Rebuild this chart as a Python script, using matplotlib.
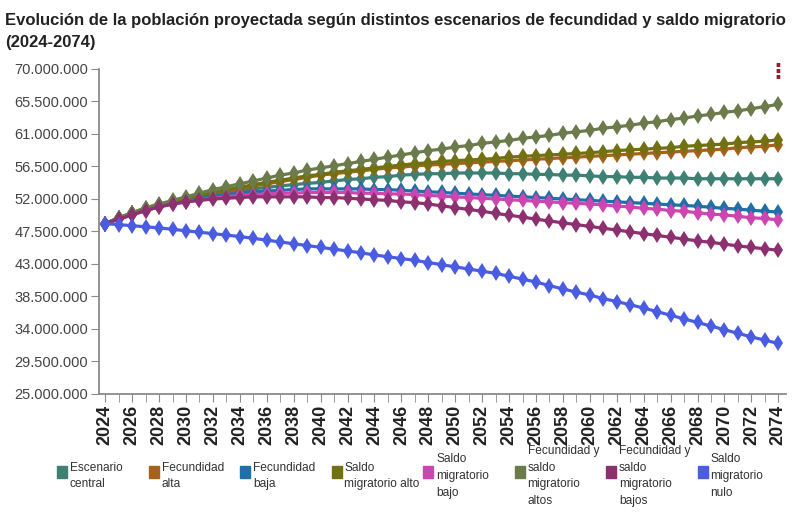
import matplotlib.pyplot as plt
from matplotlib.patches import Rectangle
import numpy as np

plt.rcParams['font.family'] = ['Liberation Sans', 'DejaVu Sans']

# data, millions of people
years = list(range(2024, 2075))

central = [48.6, 49.3, 50.0, 50.6, 51.1, 51.5, 51.9, 52.3, 52.6, 52.9,
           53.2, 53.4, 53.6, 53.8, 54.0, 54.15, 54.3, 54.5, 54.7, 54.8,
           55.0, 55.1, 55.3, 55.4, 55.5, 55.5, 55.6, 55.6, 55.6, 55.6,
           55.5, 55.5, 55.4, 55.4, 55.3, 55.3, 55.2, 55.1, 55.1, 55.0,
           55.0, 54.9, 54.9, 54.9, 54.8, 54.8, 54.8, 54.8, 54.8, 54.8,
           54.8]
fec_alta = [48.6, 49.3, 50.0, 50.6, 51.1, 51.5, 51.9, 52.3, 52.7, 53.1,
            53.4, 53.8, 54.1, 54.4, 54.7, 55.0, 55.3, 55.5, 55.7, 55.9,
            56.1, 56.3, 56.4, 56.6, 56.7, 56.8, 56.9, 57.0, 57.1, 57.2,
            57.3, 57.4, 57.5, 57.6, 57.7, 57.8, 57.9, 58.0, 58.1, 58.2,
            58.3, 58.4, 58.5, 58.6, 58.7, 58.8, 58.9, 59.1, 59.2, 59.3,
            59.5]
fec_baja = [48.6, 49.3, 50.0, 50.6, 51.1, 51.5, 51.8, 52.1, 52.4, 52.6,
            52.8, 53.0, 53.1, 53.2, 53.3, 53.4, 53.4, 53.4, 53.4, 53.4,
            53.3, 53.3, 53.2, 53.1, 53.0, 52.9, 52.8, 52.7, 52.6, 52.5,
            52.4, 52.3, 52.2, 52.1, 52.0, 51.9, 51.8, 51.7, 51.6, 51.5,
            51.4, 51.3, 51.2, 51.1, 51.0, 50.85, 50.7, 50.6, 50.45, 50.3,
            50.2]
saldo_alto = [48.6, 49.4, 50.1, 50.7, 51.2, 51.7, 52.1, 52.5, 52.9, 53.3,
              53.6, 54.0, 54.3, 54.6, 54.9, 55.2, 55.4, 55.7, 55.9, 56.1,
              56.3, 56.5, 56.7, 56.9, 57.0, 57.2, 57.3, 57.4, 57.5, 57.6,
              57.8, 57.9, 58.0, 58.1, 58.2, 58.3, 58.4, 58.55, 58.7, 58.8,
              58.9, 59.0, 59.1, 59.3, 59.4, 59.5, 59.6, 59.8, 59.9, 60.0,
              60.2]
saldo_bajo = [48.6, 49.2, 49.8, 50.4, 50.9, 51.3, 51.6, 51.9, 52.1, 52.3,
              52.5, 52.6, 52.7, 52.8, 52.8, 52.9, 52.9, 52.9, 52.9, 52.8,
              52.8, 52.7, 52.7, 52.6, 52.5, 52.4, 52.3, 52.2, 52.1, 52.0,
              51.9, 51.8, 51.7, 51.6, 51.5, 51.4, 51.3, 51.2, 51.0, 50.9,
              50.7, 50.6, 50.4, 50.3, 50.1, 49.9, 49.8, 49.6, 49.4, 49.3,
              49.1]
altos = [48.6, 49.4, 50.1, 50.8, 51.3, 51.8, 52.3, 52.8, 53.3, 53.7,
         54.1, 54.5, 54.9, 55.3, 55.6, 56.0, 56.3, 56.6, 56.9, 57.2,
         57.5, 57.8, 58.1, 58.4, 58.7, 58.9, 59.2, 59.4, 59.7, 59.9,
         60.1, 60.4, 60.6, 60.8, 61.1, 61.3, 61.5, 61.8, 62.0, 62.2,
         62.5, 62.7, 63.0, 63.2, 63.5, 63.7, 64.0, 64.2, 64.5, 64.8,
         65.1]
bajos = [48.6, 49.2, 49.8, 50.4, 50.9, 51.3, 51.6, 51.8, 52.0, 52.1,
         52.2, 52.3, 52.3, 52.3, 52.3, 52.3, 52.2, 52.2, 52.1, 52.0,
         51.9, 51.8, 51.6, 51.5, 51.3, 51.05, 50.8, 50.55, 50.3, 50.0,
         49.75, 49.5, 49.2, 48.95, 48.7, 48.45, 48.2, 47.95, 47.7, 47.45,
         47.2, 46.95, 46.7, 46.45, 46.2, 46.0, 45.75, 45.5, 45.3, 45.1,
         44.9]
nulo = [48.6, 48.45, 48.3, 48.15, 48.0, 47.8, 47.6, 47.4, 47.2, 47.0,
        46.8, 46.55, 46.3, 46.05, 45.8, 45.55, 45.3, 45.05, 44.8, 44.55,
        44.25, 44.0, 43.75, 43.5, 43.2, 42.9, 42.6, 42.3, 42.0, 41.7,
        41.3, 40.9, 40.5, 40.0, 39.55, 39.1, 38.7, 38.2, 37.8, 37.35,
        36.9, 36.4, 35.9, 35.4, 34.9, 34.4, 33.9, 33.4, 32.9, 32.45,
        32.0]

series = [central, fec_alta, fec_baja, saldo_alto, saldo_bajo, altos, bajos, nulo]
labels = ['Escenario\ncentral', 'Fecundidad\nalta', 'Fecundidad\nbaja',
          'Saldo\nmigratorio alto', 'Saldo\nmigratorio\nbajo',
          'Fecundidad y\nsaldo\nmigratorio\naltos',
          'Fecundidad y\nsaldo\nmigratorio\nbajos',
          'Saldo\nmigratorio\nnulo']
colors = ['#3f8074', '#a5621c', '#1f70a8', '#717112', '#cc45b0',
          '#6b7b4b', '#8c3070', '#4a5de2']

y_ticks = [25000000, 29500000, 34000000, 38500000, 43000000, 47500000,
           52000000, 56500000, 61000000, 65500000, 70000000]

title = ('Evolución de la población proyectada según distintos escenarios '
         'de fecundidad y saldo migratorio\n(2024-2074)')

fig = plt.figure(figsize=(8, 5.27), dpi=100)
ax = fig.add_axes([0.124, 0.2524, 0.859, 0.6167])

x = np.array(years)
for vals, col in zip(series, colors):
    ax.plot(x, np.array(vals) * 1e6, color=col, lw=2.3,
            marker='d', markersize=8.5, markeredgewidth=0)

ax.set_xlim(2023.55, 2074.6)
ax.set_ylim(25000000, 70000000)
ax.set_yticks(y_ticks)
ax.set_yticklabels([f'{v:,}'.replace(',', '.') for v in y_ticks])
ax.set_xticks(years[::2])
ax.set_xticks(years, minor=True)
ax.set_xticklabels([str(y) for y in years[::2]], rotation=90,
                   fontweight='bold', fontsize=13, color='#222222')

for s in ['top', 'right']:
    ax.spines[s].set_visible(False)
for s in ['left', 'bottom']:
    ax.spines[s].set_color('#8a8a8a')
    ax.spines[s].set_linewidth(1.3)
ax.tick_params(axis='y', length=6, color='#8a8a8a', labelsize=10.5,
               labelcolor='#444444', pad=2)
ax.tick_params(axis='x', which='both', length=6, color='#8a8a8a', pad=2)

fig.text(0.006, 1 - 13 / 527, title, ha='left', va='top', fontsize=12,
         fontweight='bold', color='#222222', linespacing=1.6)

fig.text(0.972, 0.865, '⋮', ha='center', va='center', fontsize=15,
         fontweight='bold', color='#8b1f2f', family='DejaVu Sans')

# legend drawn by hand so the swatches sit next to wrapped labels
for i, (lab, col) in enumerate(zip(labels, colors)):
    x0 = (57 + i * 91.5) / 800
    fig.patches.append(Rectangle((x0, 1 - 478 / 527), 10 / 800, 12 / 527,
                                 transform=fig.transFigure, color=col))
    fig.text(x0 + 13 / 800, 1 - 476 / 527, lab, ha='left', va='center',
             fontsize=8.6, color='#333333', linespacing=1.55)

fig.savefig('out.png', dpi=100)
